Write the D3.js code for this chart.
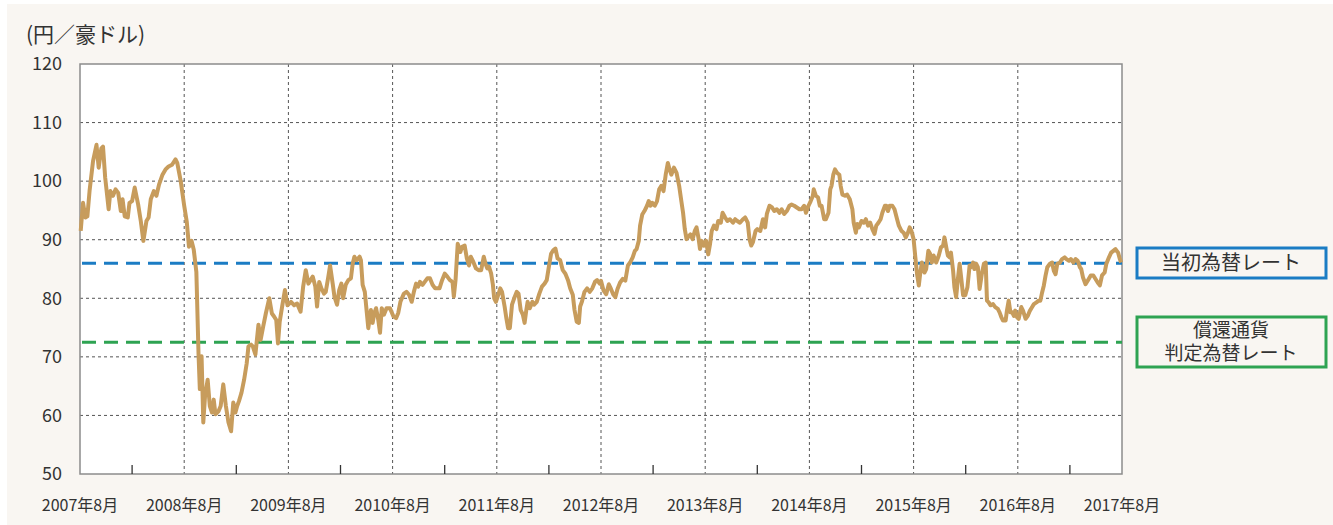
<!DOCTYPE html>
<html>
<head>
<meta charset="utf-8">
<script src="https://cdn.jsdelivr.net/npm/d3@7"></script>
<style>
  body { margin: 0; background: #ffffff; }
  svg { display: block; }
  text { font-family: "Noto Sans CJK JP", "Noto Sans", sans-serif; fill: #333333; }
</style>
</head>
<body>
<div id="chart"></div>
<script>
// 月 (2007年8月からの経過月数) と 為替レート (円/豪ドル)
var rateSeries = [
  [0.08,91.5],[0.35,96.3],[0.62,93.8],[0.85,94],[1.1,98.3],[1.5,103.4],[1.9,106.2],[2.15,102.3],[2.46,105.6],[2.65,105.9],
  [2.9,100.6],[3.3,95.2],[3.5,98.3],[3.8,97.5],[4.1,98.6],[4.4,98],[4.7,94.9],[4.9,96.9],[5.15,94],[5.5,93.8],
  [5.7,96.3],[6.0,96.6],[6.3,98.9],[6.7,96],[7.0,93.2],[7.3,89.8],[7.65,93.2],[7.9,93.8],[8.15,96.9],[8.5,98.3],
  [8.8,97.5],[9.1,99.4],[9.5,101.1],[9.85,102],[10.2,102.5],[10.6,102.8],[11,103.7],[11.2,103.1],[11.6,100],[12,95.8],
  [12.3,93],[12.55,88.8],[12.85,89.8],[13.1,88.3],[13.4,84.5],[13.65,70.5],[13.8,64.5],[14.0,70.1],[14.2,58.8],[14.4,63.3],
  [14.7,66.1],[14.95,61.6],[15.2,60.5],[15.4,62.7],[15.6,60.2],[15.95,60.7],[16.2,61.6],[16.5,65.3],[16.8,61.6],[17.1,58.8],
  [17.4,57.3],[17.65,62.2],[17.9,60.5],[18.1,61.6],[18.3,62.4],[18.6,63.9],[18.9,66.1],[19.2,68.9],[19.4,71.8],[19.7,72.1],
  [19.9,71.8],[20.2,70.4],[20.55,75.5],[20.8,72.9],[21.1,75.2],[21.4,77.4],[21.8,80],[22.1,77.4],[22.35,76.9],[22.6,76.3],
  [22.8,72.3],[23.0,76],[23.3,78.8],[23.6,81.4],[23.9,78.8],[24.3,79.4],[24.65,78.8],[25.0,79.1],[25.4,77.7],[25.7,82],
  [26.0,84.8],[26.3,82.5],[26.55,83.1],[26.8,83.7],[27.1,82],[27.3,78.6],[27.55,82.8],[27.8,81.7],[28.1,80.8],[28.3,81.1],
  [28.6,83.7],[28.8,85.6],[29.1,82.5],[29.3,80.3],[29.6,78.9],[29.85,81.4],[30.1,82.5],[30.3,80],[30.6,82.3],[30.9,83.1],
  [31.2,83.4],[31.4,85.9],[31.6,87.1],[31.85,86.5],[32.2,87.1],[32.35,86.5],[32.55,82.3],[32.8,81.1],[33,78],[33.2,74.9],
  [33.5,78],[33.7,75.8],[33.9,77.5],[34.1,78.3],[34.35,76.3],[34.55,74.1],[34.75,78.3],[35,77.2],[35.3,78.3],[35.7,78.3],
  [36.1,76.9],[36.4,76.6],[36.65,77.5],[36.9,79.4],[37.3,80.8],[37.6,81.1],[37.9,80.6],[38.2,79.4],[38.45,81.1],[38.7,82.5],
  [38.95,82],[39.15,82.8],[39.45,82.3],[39.7,82.8],[40,83.4],[40.3,83.4],[40.6,82.3],[40.9,81.7],[41.1,81.7],[41.4,81.7],
  [41.7,83.1],[42,84.2],[42.3,83.7],[42.6,83.1],[42.9,82.8],[43.05,80.3],[43.25,83.1],[43.5,89.3],[43.8,87.9],[44,88.8],
  [44.3,89],[44.55,86.8],[44.8,85.6],[45,87.1],[45.3,86.2],[45.6,85.1],[45.9,84.8],[46.2,84.8],[46.5,87.1],[46.7,85.9],
  [46.9,85.1],[47.1,85.4],[47.35,84.2],[47.55,82.3],[47.7,80],[47.9,79.4],[48.1,80.3],[48.4,81.7],[48.6,81.1],[48.9,78.6],
  [49.1,76.6],[49.3,74.9],[49.5,74.9],[49.75,78.9],[50,80],[50.3,81.1],[50.5,80.8],[50.75,78],[51,77.2],[51.2,75.8],
  [51.4,78],[51.55,79.4],[51.8,78.3],[52.1,79.4],[52.3,78.9],[52.6,79.4],[52.9,80.8],[53.2,82],[53.5,82.5],[53.75,83.1],
  [54,85.4],[54.25,87.6],[54.5,88.2],[54.75,88.5],[55,86.8],[55.3,86.5],[55.6,84.8],[55.9,84.2],[56.2,83.1],[56.45,81.7],
  [56.75,80.6],[56.95,78],[57.2,76],[57.45,75.8],[57.6,78.6],[57.8,79.4],[58.1,81.1],[58.4,81.7],[58.7,81.1],[59,81.7],
  [59.3,82.8],[59.55,83.1],[59.85,82.5],[60,83],[60.3,81.3],[60.6,80.7],[60.9,82.4],[61.15,81.6],[61.4,80.7],[61.65,80.2],
  [61.9,81.6],[62.2,82.7],[62.5,83.3],[62.8,83],[63.1,85.6],[63.35,86.1],[63.65,87],[63.9,88.1],[64.1,88.4],[64.35,89.8],
  [64.5,92.4],[64.75,94.3],[65,94.9],[65.3,95.8],[65.5,96.6],[65.7,95.8],[65.9,96.3],[66.2,95.8],[66.45,96.6],[66.7,98.6],
  [66.95,99.2],[67.2,98.3],[67.45,101.1],[67.7,103.1],[67.9,102],[68.1,101.1],[68.4,102.3],[68.7,101.4],[69,99.2],[69.25,96.6],
  [69.45,94.6],[69.65,91.8],[69.85,90.1],[70,90.4],[70.3,90.9],[70.55,90.1],[70.8,91.5],[71,92.1],[71.25,90.1],[71.4,88.4],
  [71.6,89.8],[71.85,89],[72.1,89.8],[72.35,87.5],[72.55,89.2],[72.75,91.5],[73,92.4],[73.3,91.8],[73.5,93.2],[73.8,92.9],
  [74,94.6],[74.3,93.8],[74.55,93.2],[74.85,93.5],[75.2,92.9],[75.45,93.5],[75.7,93.2],[76,92.9],[76.35,93.5],[76.6,93.8],
  [76.9,92.9],[77.1,90.1],[77.3,89],[77.5,89.6],[77.8,91.5],[78,91.8],[78.35,91.5],[78.65,93.5],[78.9,92.1],[79.1,94.4],
  [79.4,95.8],[79.7,95.5],[79.95,94.9],[80.25,95.2],[80.55,94.6],[80.8,95.2],[81.1,94.4],[81.4,94.9],[81.7,95.8],[81.95,96],
  [82.25,95.8],[82.55,95.5],[82.85,95.2],[83.1,95.2],[83.4,95.8],[83.6,94.6],[83.9,95.8],[84.15,96.6],[84.4,97.5],[84.5,98.6],
  [84.75,97.5],[85,97.2],[85.2,95.8],[85.4,95.8],[85.7,93.5],[85.9,93.5],[86.2,94.6],[86.4,98.6],[86.55,99.2],[86.75,101.1],
  [86.95,102],[87.2,101.4],[87.45,101.1],[87.6,99.2],[87.8,97.7],[88.1,97.5],[88.35,97.7],[88.65,96.9],[88.95,95.2],[89.1,92.9],
  [89.35,91.2],[89.5,92.7],[89.7,92.1],[90,93.2],[90.25,92.9],[90.5,93.5],[90.75,92.4],[91,92.9],[91.25,91.8],[91.5,91],
  [91.7,92.4],[91.95,92.9],[92.2,93.5],[92.4,94.6],[92.7,95.8],[92.85,95.8],[93.05,94.9],[93.25,95.8],[93.55,95.8],[93.8,95.2],
  [94.1,93.5],[94.3,92.4],[94.6,91.5],[94.85,91.2],[95.1,90.4],[95.35,91.2],[95.55,92.1],[95.75,91.5],[96,90.1],[96.2,87],
  [96.4,84.1],[96.6,82.2],[96.75,84.1],[96.95,86.1],[97.25,84.4],[97.45,85],[97.7,88.1],[97.9,87.6],[98.1,86.1],[98.3,87.3],
  [98.6,86.1],[98.9,87.3],[99.15,88.7],[99.4,89],[99.55,90.4],[99.8,88.4],[99.95,87.3],[100.15,87],[100.3,87.8],[100.55,84.7],
  [100.7,81.9],[100.9,80.2],[101.1,83.3],[101.3,85.9],[101.45,83.9],[101.7,80.5],[101.95,80.5],[102.2,81.9],[102.45,85.6],[102.6,85.3],
  [102.85,86.1],[103,85],[103.2,85.9],[103.4,85.3],[103.6,81.6],[103.85,84.1],[104.1,85.9],[104.3,86.1],[104.45,79.6],[104.65,79.3],
  [104.85,78.8],[105.15,79],[105.4,78.5],[105.7,78.2],[105.9,77.6],[106.1,76.8],[106.3,76.2],[106.6,76.2],[106.75,77.9],[106.95,79.6],
  [107.15,77.6],[107.35,77.6],[107.55,77],[107.7,77.9],[107.9,76.8],[108.1,76.5],[108.4,78.5],[108.6,77.9],[108.9,76.5],[109.15,77],
  [109.4,77.9],[109.65,78.5],[109.85,79],[110.15,79.3],[110.4,79.6],[110.6,79.6],[110.8,81],[111,82.2],[111.2,83.9],[111.4,85.3],
  [111.7,85.9],[111.95,86.1],[112.15,84.7],[112.35,84.1],[112.55,85.9],[112.85,86.1],[113.1,86.7],[113.4,87],[113.6,86.7],[113.9,86.4],
  [114.1,86.7],[114.4,86.1],[114.65,86.7],[114.9,86.4],[115.15,85.3],[115.3,85],[115.5,83.6],[115.8,82.4],[116.05,83],[116.4,83.9],
  [116.7,83.9],[116.95,83.3],[117.2,82.7],[117.45,82.2],[117.7,83.9],[118,84.4],[118.2,85.9],[118.5,87],[118.75,87.8],[119,88.1],
  [119.25,88.4],[119.55,87.8],[119.75,86.7],[119.9,86.1]
];

var xLabels = ["2007年8月","2008年8月","2009年8月","2010年8月","2011年8月","2012年8月",
               "2013年8月","2014年8月","2015年8月","2016年8月","2017年8月"];
var yTicks = [50, 60, 70, 80, 90, 100, 110, 120];
var refLines = [
  {name: ["当初為替レート"], value: 86, color: "#1b7cc4"},
  {name: ["償還通貨", "判定為替レート"], value: 72.5, color: "#2ea352"}
];

var width = 1333, height = 525;
var plot = {left: 80, right: 1122, top: 64, bottom: 474};

var svg = d3.select("#chart").append("svg")
    .attr("width", width)
    .attr("height", height);

// 背景
svg.append("rect")
    .attr("x", 7).attr("y", 4)
    .attr("width", width - 7).attr("height", height - 4)
    .attr("fill", "#f9f6f2");

svg.append("rect")
    .attr("x", plot.left).attr("y", plot.top)
    .attr("width", plot.right - plot.left).attr("height", plot.bottom - plot.top)
    .attr("fill", "#ffffff");

var x = d3.scaleLinear().domain([0, 120]).range([plot.left, plot.right]);
var y = d3.scaleLinear().domain([50, 120]).range([plot.bottom, plot.top]);

// 横グリッド
svg.append("g").selectAll("line")
    .data(yTicks.filter(function(d){ return d > 50 && d < 120; }))
    .enter().append("line")
    .attr("x1", plot.left).attr("x2", plot.right)
    .attr("y1", d => y(d)).attr("y2", d => y(d))
    .style("stroke", "#555")
    .style("stroke-width", 1)
    .style("stroke-dasharray", "3,3");

// 縦グリッド (年)
svg.append("g").selectAll("line")
    .data(d3.range(1, xLabels.length - 1))
    .enter().append("line")
    .attr("x1", d => x(d * 12)).attr("x2", d => x(d * 12))
    .attr("y1", plot.top).attr("y2", plot.bottom)
    .style("stroke", "#555")
    .style("stroke-width", 1)
    .style("stroke-dasharray", "3,3");

// 枠
svg.append("rect")
    .attr("x", plot.left).attr("y", plot.top)
    .attr("width", plot.right - plot.left).attr("height", plot.bottom - plot.top)
    .attr("fill", "none")
    .style("stroke", "#8c8c8c")
    .style("stroke-width", 1.5);

// 半年の目盛り
svg.append("g").selectAll("line")
    .data(d3.range(0, xLabels.length - 1))
    .enter().append("line")
    .attr("x1", d => x(d * 12 + 6)).attr("x2", d => x(d * 12 + 6))
    .attr("y1", plot.bottom).attr("y2", plot.bottom - 9)
    .style("stroke", "#333")
    .style("stroke-width", 1.3);

// 軸ラベル
svg.append("g").selectAll("text")
    .data(yTicks)
    .enter().append("text")
    .attr("x", 62)
    .attr("y", d => y(d))
    .attr("dy", "0.35em")
    .attr("text-anchor", "end")
    .attr("font-size", "18px")
    .text(d => d);

svg.append("g").selectAll("text")
    .data(xLabels)
    .enter().append("text")
    .attr("x", (d, i) => x(i * 12))
    .attr("y", 505)
    .attr("dy", "0.35em")
    .attr("text-anchor", "middle")
    .attr("font-size", "16px")
    .text(d => d);

svg.append("text")
    .attr("x", 26)
    .attr("y", 35)
    .attr("dy", "0.35em")
    .attr("font-size", "21px")
    .text("(円／豪ドル)");

// 基準線
svg.append("g").selectAll("line")
    .data(refLines)
    .enter().append("line")
    .attr("x1", plot.left + 2).attr("x2", plot.right)
    .attr("y1", d => y(d.value)).attr("y2", d => y(d.value))
    .style("stroke", d => d.color)
    .style("stroke-width", 3)
    .style("stroke-dasharray", "14,8");

// 為替レート
var line = d3.line()
    .x(d => x(d[0]))
    .y(d => y(d[1]));

svg.append("path")
    .datum(rateSeries)
    .attr("d", line)
    .attr("fill", "none")
    .style("stroke", "#c79c5c")
    .style("stroke-width", 4)
    .style("stroke-linejoin", "round");

// 凡例ボックス
var boxes = [{top: 248, h: 30}, {top: 317, h: 50}];
refLines.forEach(function(r, i){
    var b = boxes[i];
    svg.append("rect")
        .attr("x", 1137).attr("y", b.top)
        .attr("width", 189).attr("height", b.h)
        .attr("fill", "#f9f6f2")
        .style("stroke", r.color)
        .style("stroke-width", 3);
    var fs = r.name.length > 1 ? 19 : 20;
    var lineH = 22.5;
    var cy = b.top + b.h / 2 - (r.name.length - 1) * lineH / 2;
    var label = svg.append("text")
        .attr("text-anchor", "middle")
        .attr("font-size", fs + "px");
    r.name.forEach(function(t, j){
        label.append("tspan")
            .attr("x", 1231)
            .attr("y", cy + j * lineH)
            .attr("dy", "0.35em")
            .text(t);
    });
});
</script>
</body>
</html>
